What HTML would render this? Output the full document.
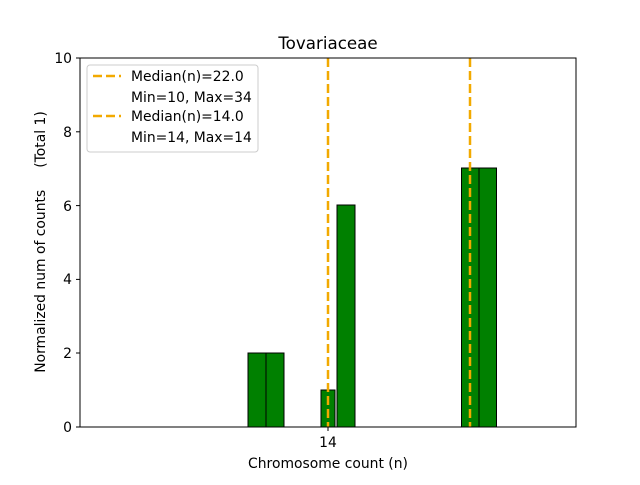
<!DOCTYPE html><html><head><style>body{margin:0;background:#fff}</style></head><body>
<svg width="640" height="480" xmlns="http://www.w3.org/2000/svg" font-family="DejaVu Sans, Liberation Sans, sans-serif">
<rect width="640" height="480" fill="#fff"/>
<g fill="#008000" stroke="#000" stroke-width="1">
<rect x="248" y="353" width="18" height="74"/>
<rect x="266" y="353" width="18" height="74"/>
<rect x="321" y="390" width="14" height="37"/>
<rect x="337" y="205" width="18" height="222"/>
<rect x="461.5" y="168" width="17.5" height="259"/>
<rect x="479" y="168" width="17.5" height="259"/>
</g>
<g stroke="#f2a900" stroke-width="2.5" stroke-dasharray="9,4">
<line x1="328" y1="58" x2="328" y2="427"/>
<line x1="470" y1="58" x2="470" y2="427"/>
</g>
<rect x="80" y="58" width="496" height="369" fill="none" stroke="#000" stroke-width="1"/>
<g stroke="#000">
<line x1="80" y1="427" x2="76" y2="427"/><line x1="80" y1="353" x2="76" y2="353"/>
<line x1="80" y1="279.4" x2="76" y2="279.4"/><line x1="80" y1="205.6" x2="76" y2="205.6"/>
<line x1="80" y1="131.8" x2="76" y2="131.8"/><line x1="80" y1="58" x2="76" y2="58"/>
<line x1="328" y1="427" x2="328" y2="431"/>
</g>
<g font-size="13.9" text-anchor="end" fill="#000">
<text x="72" y="432">0</text><text x="72" y="358">2</text><text x="72" y="284">4</text>
<text x="72" y="211">6</text><text x="72" y="137">8</text><text x="72" y="63">10</text>
</g>
<text x="328" y="447" font-size="13.9" text-anchor="middle">14</text>
<text x="328" y="468" font-size="13.9" text-anchor="middle">Chromosome count (n)</text>
<text x="328" y="49" font-size="16.7" text-anchor="middle">Tovariaceae</text>
<text transform="translate(45,242) rotate(-90)" font-size="13.9" text-anchor="middle" xml:space="preserve">Normalized num of counts     (Total 1)</text>
<rect x="87" y="65" width="171" height="87" rx="3" fill="#fff" stroke="#ccc"/>
<g stroke="#f2a900" stroke-width="2.5" stroke-dasharray="9,4">
<line x1="93" y1="76" x2="121" y2="76"/>
<line x1="93" y1="116" x2="121" y2="116"/>
</g>
<g font-size="13.9" fill="#000">
<text x="131" y="81">Median(n)=22.0</text>
<text x="131" y="102">Min=10, Max=34</text>
<text x="131" y="121">Median(n)=14.0</text>
<text x="131" y="142">Min=14, Max=14</text>
</g>
</svg></body></html>
